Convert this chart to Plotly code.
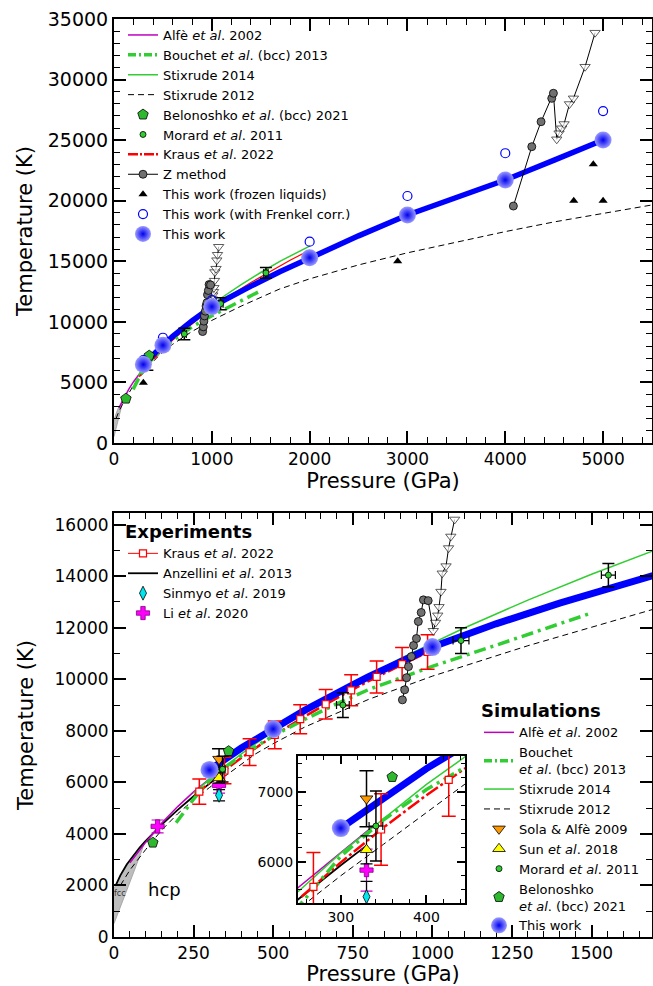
import plotly.graph_objects as go

# ---------------- data ----------------
tw_P = [300, 500, 1000, 2000, 3000, 4000, 5000]
tw_T = [6480, 8070, 11250, 15300, 18820, 21710, 25010]
twfit_P = [300, 400, 500, 600, 750, 800, 1000, 1200, 1400, 1700, 2000, 2500, 3000, 3500, 4000, 4500, 5000]
twfit_T = [6480, 7330, 8070, 8800, 9780, 10100, 11250, 12150, 12950, 14150, 15300, 17100, 18820, 20250, 21710, 23350, 25010]
frenkel_P = [300, 500, 1000, 2000, 3000, 4000, 5000]
frenkel_T = [6850, 8690, 11800, 16620, 20390, 23920, 27400]
frozen_P = [300, 2900, 4700, 4900, 5000]
frozen_T = [4980, 15000, 20000, 23000, 20000]

zA_P = [906, 913, 919, 925, 934, 941, 950, 956, 965, 972, 987]
zA_T = [9200, 9590, 10060, 10490, 10880, 11310, 11580, 12240, 12590, 13080, 13050]
zAt_P = [987, 1003, 1010, 1017, 1021, 1027, 1031, 1043, 1051, 1058, 1070]
zAt_T = [13050, 11880, 12200, 12480, 12810, 13400, 14110, 14390, 15090, 15540, 16200]
zB_P = [4083, 4271, 4366, 4475, 4492]
zB_T = [19560, 24460, 26520, 28450, 28870]
zBt_P = [4492, 4526, 4550, 4577, 4601, 4656, 4697, 4816, 4918]
zBt_T = [28870, 25070, 25570, 25980, 26330, 27980, 28450, 31060, 33870]

alfe_P = [50, 100, 150, 200, 250, 300, 340]
alfe_T = [2880, 3680, 4420, 5060, 5630, 6130, 6530]
anz_P = [5, 20, 40, 60, 80, 98, 150, 200, 250, 300, 330]
anz_T = [1990, 2390, 2810, 3160, 3460, 3710, 4360, 4930, 5460, 5950, 6230]
bou_P = [195, 250, 300, 350, 400, 500, 600, 700, 800, 1000, 1200, 1500]
bou_T = [4430, 5350, 6080, 6600, 7030, 7800, 8450, 9050, 9600, 10500, 11320, 12570]
s14_P = [250, 300, 400, 500, 700, 900, 1100, 1300, 1500, 1700, 2000]
s14_T = [5570, 6125, 7105, 7975, 9490, 10810, 11990, 13070, 14075, 15015, 16250]
s12_P = [20, 50, 100, 150, 200, 250, 300, 350, 444, 500, 600, 800, 1000, 1300, 1690, 2000, 2500, 3000, 3500, 4000, 4500, 5000, 5500]
s12_T = [2000, 2600, 3400, 4150, 4780, 5320, 5800, 6250, 7100, 7500, 8150, 9220, 10120, 11300, 12700, 13550, 14700, 15700, 16600, 17450, 18250, 18950, 19650]
kr_P = [254, 300, 350, 400, 500, 600, 700, 800, 900, 1000]
kr_T = [5500, 5990, 6490, 6950, 7800, 8565, 9270, 9930, 10550, 11140]
krx_P = [1000, 1200, 1400, 1600, 1800, 2000]
krx_T = [11140, 12240, 13250, 14190, 15080, 15920]
krd_P = [268, 347, 426, 505, 585, 665, 745, 825, 905, 985]
krd_T = [5640, 6460, 7170, 7840, 8450, 9030, 9570, 10090, 10590, 11060]
krd_err = [490, 510, 520, 540, 560, 570, 600, 620, 640, 670]

belo_P = [122, 360]
belo_T = [3660, 7210]
mor_P = [341, 719, 1090, 1553]
mor_T = [6510, 9000, 11500, 14040]
mor_errT = [500, 480, 500, 450]
mor_errP = [8, 20, 25, 22]
li_P = [137, 330]
li_T = [4290, 5880]
li_err = [250, 300]
sin_P = [330]; sin_T = [5500]; sin_err = [220]
sun_P = [330]; sun_T = [6170]; sun_err = [200]
sola_P = [330]; sola_T = [6900]; sola_err = [400]
fcc_P = [0, 5, 20, 40, 60, 80, 98, 60, 30, 0]
fcc_T = [1900, 1990, 2390, 2810, 3160, 3460, 3710, 2450, 1450, 520]

# ---------------- helpers ----------------
W, H = 653, 986
def fx(px): return px / W
def fy(py): return 1 - py / H

MAG = '#bf00bf'; GRN = '#32cd32'; RED = '#ff0000'; BLU = '#0000ff'
FONT = 'DejaVu Sans'

fig = go.Figure()
AX = {'top': ('x', 'y'), 'bot': ('x2', 'y2'), 'ins': ('x3', 'y3')}

def add(where, **kw):
    for w in where:
        xa, ya = AX[w]
        fig.add_trace(go.Scatter(xaxis=xa, yaxis=ya, showlegend=False, hoverinfo='skip', **kw))

# fcc region
add(['top', 'bot'], x=fcc_P, y=fcc_T, mode='lines', fill='toself', fillcolor='#bdbdbd',
    line=dict(color='#9a9a9a', width=0.8))
# lines
add(['top', 'bot', 'ins'], x=s12_P, y=s12_T, mode='lines', line=dict(color='black', width=1, dash='6px,4px'))
add(['bot', 'ins'], x=anz_P, y=anz_T, mode='lines', line=dict(color='black', width=1.8))
add(['top'], x=krx_P, y=krx_T, mode='lines', line=dict(color=RED, width=1.2))
add(['top', 'bot', 'ins'], x=kr_P, y=kr_T, mode='lines', line=dict(color=RED, width=2.5, dash='14px,3px,3px,3px'))
add(['top', 'bot', 'ins'], x=alfe_P, y=alfe_T, mode='lines', line=dict(color=MAG, width=1.5))
add(['top', 'bot', 'ins'], x=bou_P, y=bou_T, mode='lines', line=dict(color=GRN, width=3.5, dash='12px,5px,3px,5px'))
add(['top', 'bot', 'ins'], x=s14_P, y=s14_T, mode='lines', line=dict(color=GRN, width=1.5))
add(['top'], x=twfit_P, y=twfit_T, mode='lines', line=dict(color=BLU, width=5.5))
add(['bot', 'ins'], x=twfit_P, y=twfit_T, mode='lines', line=dict(color=BLU, width=7))

# experimental points
add(['bot', 'ins'], x=krd_P, y=krd_T, mode='markers',
    marker=dict(symbol='square', size=7, color='white', line=dict(color=RED, width=1.2)),
    error_y=dict(type='data', array=krd_err, color=RED, thickness=1.5, width=7))
add(['bot', 'ins'], x=li_P, y=li_T, mode='markers',
    marker=dict(symbol='cross', size=11, color='#ff00ff', line=dict(color='#800080', width=0.8)),
    error_y=dict(type='data', array=li_err, color='#cc00cc', thickness=1.2, width=6))
add(['bot', 'ins'], x=sin_P, y=sin_T, mode='markers',
    marker=dict(symbol='diamond-tall', size=10, color='#00e5ee', line=dict(color='black', width=0.8)),
    error_y=dict(type='data', array=sin_err, color='black', thickness=1.2, width=6))
add(['bot', 'ins'], x=sun_P, y=sun_T, mode='markers',
    marker=dict(symbol='triangle-up', size=11, color='#ffff00', line=dict(color='black', width=0.8)),
    error_y=dict(type='data', array=sun_err, color='black', thickness=1.2, width=6))
add(['bot', 'ins'], x=sola_P, y=sola_T, mode='markers',
    marker=dict(symbol='triangle-down', size=11, color='#ff9900', line=dict(color='black', width=0.8)),
    error_y=dict(type='data', array=sola_err, color='black', thickness=1.5, width=7))
add(['top', 'bot', 'ins'], x=mor_P, y=mor_T, mode='markers',
    marker=dict(symbol='circle', size=6, color=GRN, line=dict(color='black', width=0.8)),
    error_y=dict(type='data', array=mor_errT, color='black', thickness=1.5, width=6),
    error_x=dict(type='data', array=mor_errP, color='black', thickness=1.2, width=4))
add(['top', 'bot', 'ins'], x=belo_P, y=belo_T, mode='markers',
    marker=dict(symbol='pentagon', size=11, color='#2db82d', line=dict(color='black', width=0.8)))
# Z method
zm = dict(symbol='circle', size=8, color='#707070', line=dict(color='black', width=0.8))
zt = dict(symbol='triangle-down', size=9, color='white', line=dict(color='black', width=0.9))
add(['top', 'bot'], x=zAt_P, y=zAt_T, mode='lines+markers', line=dict(color='black', width=1),
    marker=dict(zt, size=[0] + [9] * (len(zAt_P) - 1)))
add(['top', 'bot'], x=zA_P, y=zA_T, mode='lines+markers', line=dict(color='black', width=1), marker=zm)
add(['top'], x=zBt_P, y=zBt_T, mode='lines+markers', line=dict(color='black', width=1),
    marker=dict(zt, size=[0] + [9] * (len(zBt_P) - 1)))
add(['top'], x=zB_P, y=zB_T, mode='lines+markers', line=dict(color='black', width=1), marker=zm)
# this work
add(['top'], x=frozen_P, y=frozen_T, mode='markers', marker=dict(symbol='triangle-up', size=8, color='black'))
add(['top'], x=frenkel_P, y=frenkel_T, mode='markers',
    marker=dict(symbol='circle-open', size=9, color=BLU, line=dict(width=1.2)))
sphere = dict(symbol='circle', size=17, color='#9c9cff', gradient=dict(type='radial', color='#0000f0'),
              line=dict(width=0))
add(['top'], x=tw_P, y=tw_T, mode='markers', marker=sphere)
add(['bot', 'ins'], x=tw_P[:3], y=tw_T[:3], mode='markers', marker=dict(sphere, size=18))

# ---------------- legend-only entries ----------------
def leg(legend, name, ax='top', **kw):
    xa, ya = AX[ax]
    fig.add_trace(go.Scatter(x=[None], y=[None], xaxis=xa, yaxis=ya, name=name, legend=legend,
                             showlegend=True, **kw))

L = lambda c, w, d='solid': dict(color=c, width=w, dash=d)
leg('legend', 'Alfè <i>et al</i>. 2002', mode='lines', line=L(MAG, 1.5))
leg('legend', 'Bouchet <i>et al</i>. (bcc) 2013', mode='lines', line=L(GRN, 3.5, '8px,3px,2px,3px'))
leg('legend', 'Stixrude 2014', mode='lines', line=L(GRN, 1.5))
leg('legend', 'Stixrude 2012', mode='lines', line=L('black', 1, '6px,4px'))
leg('legend', 'Belonoshko <i>et al</i>. (bcc) 2021', mode='markers',
    marker=dict(symbol='pentagon', size=11, color='#2db82d', line=dict(color='black', width=0.8)))
leg('legend', 'Morard <i>et al</i>. 2011', mode='markers',
    marker=dict(symbol='circle', size=6, color=GRN, line=dict(color='black', width=0.8)))
leg('legend', 'Kraus <i>et al</i>. 2022', mode='lines', line=L(RED, 2.5, '10px,2px,2px,2px'))
leg('legend', 'Z method', mode='lines+markers', line=L('black', 1), marker=zm)
leg('legend', 'This work (frozen liquids)', mode='markers', marker=dict(symbol='triangle-up', size=8, color='black'))
leg('legend', 'This work (with Frenkel corr.)', mode='markers',
    marker=dict(symbol='circle-open', size=9, color=BLU, line=dict(width=1.2)))
leg('legend', 'This work', mode='markers', marker=sphere)

leg('legend2', 'Kraus <i>et al</i>. 2022', ax='bot', mode='lines+markers', line=L(RED, 1),
    marker=dict(symbol='square', size=7, color='white', line=dict(color=RED, width=1.2)))
leg('legend2', 'Anzellini <i>et al</i>. 2013', ax='bot', mode='lines', line=L('black', 1.8))
leg('legend2', 'Sinmyo <i>et al</i>. 2019', ax='bot', mode='markers',
    marker=dict(symbol='diamond-tall', size=10, color='#00e5ee', line=dict(color='black', width=0.8)))
leg('legend2', 'Li <i>et al</i>. 2020', ax='bot', mode='markers',
    marker=dict(symbol='cross', size=11, color='#ff00ff', line=dict(color='#800080', width=0.8)))

leg('legend3', 'Alfè <i>et al</i>. 2002', ax='bot', mode='lines', line=L(MAG, 1.5))
leg('legend3', 'Bouchet<br><i>et al</i>. (bcc) 2013', ax='bot', mode='lines', line=L(GRN, 3.5, '8px,3px,2px,3px'))
leg('legend3', 'Stixrude 2014', ax='bot', mode='lines', line=L(GRN, 1.5))
leg('legend3', 'Stixrude 2012', ax='bot', mode='lines', line=L('black', 1, '6px,4px'))
leg('legend3', 'Sola & Alfè 2009', ax='bot', mode='markers',
    marker=dict(symbol='triangle-down', size=11, color='#ff9900', line=dict(color='black', width=0.8)))
leg('legend3', 'Sun <i>et al</i>. 2018', ax='bot', mode='markers',
    marker=dict(symbol='triangle-up', size=11, color='#ffff00', line=dict(color='black', width=0.8)))
leg('legend3', 'Morard <i>et al</i>. 2011', ax='bot', mode='markers',
    marker=dict(symbol='circle', size=6, color=GRN, line=dict(color='black', width=0.8)))
leg('legend3', 'Belonoshko<br><i>et al</i>. (bcc) 2021', ax='bot', mode='markers',
    marker=dict(symbol='pentagon', size=11, color='#2db82d', line=dict(color='black', width=0.8)))
leg('legend3', 'This work', ax='bot', mode='markers', marker=sphere)

# ---------------- layout ----------------
def axis(domain, rng, dtick, minor, anchor, size, title=None, tlen=12, mlen=6, tsize=21, standoff=4):
    d = dict(domain=domain, range=rng, dtick=dtick, tick0=0, anchor=anchor, tickformat='d',
             showline=True, linecolor='black', linewidth=2, mirror='ticks',
             ticks='inside', ticklen=tlen, tickwidth=1.5, tickcolor='black',
             minor=dict(ticks='inside', dtick=minor, ticklen=mlen, tickwidth=1.2, tickcolor='black'),
             showgrid=False, zeroline=False, automargin=False,
             tickfont=dict(family=FONT, size=size, color='black'))
    if title:
        d['title'] = dict(text=title, font=dict(family=FONT, size=tsize, color='black'), standoff=standoff)
    return d

legfont = dict(family=FONT, size=13, color='black')
fig.update_layout(
    width=W, height=H, margin=dict(l=0, r=0, t=0, b=0),
    paper_bgcolor='white', plot_bgcolor='white',
    font=dict(family=FONT, color='black'),
    xaxis=axis([fx(114), fx(652)], [0, 5500], 1000, 200, 'y', 17, 'Pressure (GPa)', standoff=2),
    yaxis=axis([fy(443), fy(19)], [0, 35000], 5000, 1000, 'x', 19, 'Temperature (K)', standoff=9),
    xaxis2=axis([fx(114), fx(652)], [0, 1690], 250, 50, 'y2', 17, 'Pressure (GPa)', standoff=0),
    yaxis2=axis([fy(937), fy(513)], [0, 16450], 2000, 1000, 'x2', 17, 'Temperature (K)', standoff=15),
    xaxis3=axis([fx(298), fx(465)], [250, 445], 100, 20, 'y3', 14, tlen=8, mlen=4),
    yaxis3=axis([fy(903), fy(756)], [5410, 7510], 1000, 200, 'x3', 14, tlen=8, mlen=4),
    legend=dict(x=fx(123), y=fy(20), xanchor='left', yanchor='top', font=legfont,
                bgcolor='rgba(0,0,0,0)', itemwidth=30, tracegroupgap=0),
    legend2=dict(x=fx(123), y=fy(515), xanchor='left', yanchor='top', font=legfont,
                 bgcolor='rgba(0,0,0,0)', itemwidth=30,
                 title=dict(text='<b>Experiments</b>', font=dict(family=FONT, size=18, color='black'))),
    legend3=dict(x=fx(479), y=fy(694), xanchor='left', yanchor='top', font=legfont,
                 bgcolor='rgba(0,0,0,0)', itemwidth=30,
                 title=dict(text='<b>Simulations</b>', font=dict(family=FONT, size=18, color='black'))),
    annotations=[
        dict(x=20, y=1700, xref='x2', yref='y2', text='fcc', showarrow=False,
             font=dict(family=FONT, size=8, color='#333333')),
        dict(x=160, y=1830, xref='x2', yref='y2', text='hcp', showarrow=False,
             font=dict(family=FONT, size=18, color='black')),
    ],
)

fig.write_html('out.html')
